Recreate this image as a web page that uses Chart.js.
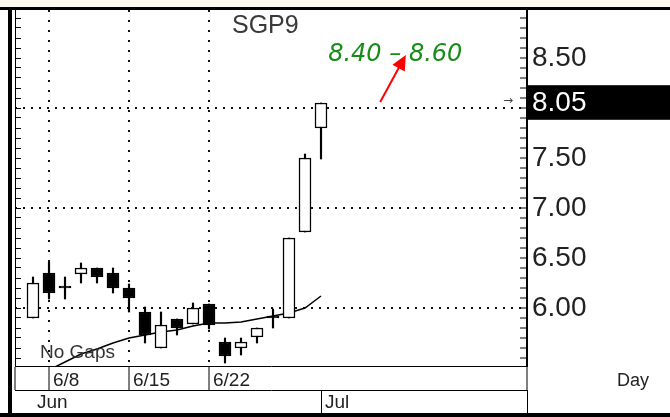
<!DOCTYPE html>
<html>
<head>
<meta charset="utf-8">
<script src="https://cdn.jsdelivr.net/npm/chart.js@4.4.1/dist/chart.umd.min.js"></script>
<style>
  html, body { margin: 0; padding: 0; background: #fff; }
  #wrap { position: relative; width: 670px; height: 417px; }
</style>
</head>
<body>
<div id="wrap"><canvas id="grafica" width="670" height="417"></canvas></div>
<script>
// trading days, one candle each
const fechas   = ['6/5','6/8','6/9','6/10','6/11','6/12','6/15','6/16','6/17','6/18','6/19','6/22','6/23','6/24','6/25','6/26','6/29','6/30','7/1'];
const apertura = [5.90, 6.35, 6.20, 6.34, 6.40, 6.35, 6.20, 5.96, 5.60, 5.89, 5.84, 6.04, 5.66, 5.60, 5.71, 5.90, 5.90, 6.76, 7.80];
const maximo   = [6.31, 6.46, 6.31, 6.45, 6.40, 6.40, 6.24, 6.01, 5.96, 5.89, 6.05, 6.04, 5.70, 5.70, 5.80, 5.99, 6.70, 7.54, 8.05];
const minimo   = [5.90, 6.09, 6.09, 6.25, 6.25, 6.15, 5.96, 5.65, 5.60, 5.73, 5.84, 5.79, 5.45, 5.53, 5.65, 5.80, 5.90, 6.76, 7.49];
const cierre   = [6.25, 6.15, 6.20, 6.40, 6.31, 6.20, 6.10, 5.73, 5.83, 5.80, 6.00, 5.83, 5.52, 5.66, 5.80, 5.90, 6.70, 7.50, 8.05];
const media    = [null, 5.38, 5.46, 5.54, 5.59, 5.65, 5.70, 5.73, 5.76, 5.78, 5.82, 5.85, 5.85, 5.86, 5.89, 5.92, 5.95, 6.00, 6.12];

// axis ticks
const dateTicks = [1, 6, 11];
const dateTickLabels = ['6/8', '6/15', '6/22'];
const monthTicks = [0, 18];
const monthLabels = ['Jun', 'Jul'];
const priceTicks = [6, 6.5, 7, 7.5, 8.05, 8.5];
const priceLabels = ['6.00', '6.50', '7.00', '7.50', '8.05', '8.50'];
const gridPrices = [6, 7, 8];
const lastPrice = 8.05;

const xMin = -1.125, xMax = 30.875;
const yMin = 5.42, yMax = 8.98;

const minorTicks = [];
for (let k = 55; k <= 89; k++) minorTicks.push(k / 10);
const rightTicks = minorTicks.concat([lastPrice]);

const cuerpos = fechas.map((f, i) => ({x: i, y: [apertura[i], cierre[i]]}));
const mechas = fechas.map((f, i) => ({x: i, y: [minimo[i], maximo[i]]}));
const promedio = fechas.map((f, i) => ({x: i, y: media[i]}));

const fuente = 'Liberation Sans';

// no label overflow padding: the plot box is fixed
const sinPadding = s => { s.paddingTop = 0; s.paddingBottom = 0; s.paddingLeft = 0; s.paddingRight = 0; };

const decor = {
  id: 'decor',
  beforeDraw(chart) {
    const c = chart.ctx;
    c.save();
    c.fillStyle = '#fbf8ee';
    c.fillRect(0, 0, chart.width, 7);
    c.restore();
  },
  afterDraw(chart) {
    const c = chart.ctx, x = chart.scales.x, y = chart.scales.y;
    c.save();
    // frame
    c.fillStyle = '#000';
    c.fillRect(0, 7, chart.width, 3);
    c.fillRect(8, 7, 4, chart.height - 7);
    c.fillRect(0, 413, chart.width, 4);

    c.textBaseline = 'middle';
    c.fillStyle = '#3a3a3a';
    c.font = '25px "' + fuente + '"';
    c.fillText('SGP9', 232, 26);
    c.fillStyle = '#333';
    c.font = '19px "' + fuente + '"';
    c.fillText('No Gaps', 40, 353);
    c.fillStyle = '#222';
    c.font = '18px "' + fuente + '"';
    c.fillText('Day', 617, 381);
    c.fillStyle = '#444';
    c.font = '12px "DejaVu Sans"';
    c.fillText('→', 503, y.getPixelForValue(lastPrice) - 2);

    // target
    c.fillStyle = '#188c18';
    c.font = 'italic 24px "DejaVu Sans"';
    c.fillText('8.40 – 8.60', x.getPixelForValue(18.45), y.getPixelForValue(8.53));

    // red arrow
    const x1 = x.getPixelForValue(21.7), y1 = y.getPixelForValue(8.06);
    const x2 = x.getPixelForValue(23.3), y2 = y.getPixelForValue(8.53);
    const a = Math.atan2(y2 - y1, x2 - x1);
    c.strokeStyle = '#f00';
    c.fillStyle = '#f00';
    c.lineWidth = 2;
    c.beginPath();
    c.moveTo(x1, y1);
    c.lineTo(x2 - 12 * Math.cos(a), y2 - 12 * Math.sin(a));
    c.stroke();
    c.beginPath();
    c.moveTo(x2, y2);
    c.lineTo(x2 - 15 * Math.cos(a) + 7 * Math.sin(a), y2 - 15 * Math.sin(a) - 7 * Math.cos(a));
    c.lineTo(x2 - 15 * Math.cos(a) - 7 * Math.sin(a), y2 - 15 * Math.sin(a) + 7 * Math.cos(a));
    c.closePath();
    c.fill();
    c.restore();
  }
};

const esTick = (ctx, lista) => ctx.tick && lista.includes(ctx.tick.value);

new Chart(document.getElementById('grafica'), {
  type: 'bar',
  data: {
    datasets: [
      {
        label: 'Cuerpo',
        data: cuerpos,
        xAxisID: 'x', yAxisID: 'y',
        backgroundColor: ctx => cierre[ctx.dataIndex] > apertura[ctx.dataIndex] ? '#fff' : '#000',
        borderColor: '#000',
        borderWidth: 1.5,
        borderSkipped: false,
        barThickness: 12,
        minBarLength: 2,
        grouped: false,
        order: 0
      },
      {
        label: 'Mecha',
        data: mechas,
        xAxisID: 'x', yAxisID: 'y',
        backgroundColor: '#000',
        borderWidth: 0,
        barThickness: 1.5,
        grouped: false,
        order: 1
      },
      {
        type: 'line',
        label: 'Media',
        data: promedio,
        xAxisID: 'x', yAxisID: 'y',
        borderColor: '#000',
        borderWidth: 1.5,
        pointRadius: 0,
        tension: 0,
        order: 2
      }
    ]
  },
  options: {
    responsive: false,
    animation: false,
    layout: { padding: { top: 10, bottom: 4, left: 0, right: 0 }, autoPadding: false },
    plugins: { legend: { display: false }, tooltip: { enabled: false } },
    scales: {
      x: {
        type: 'linear', axis: 'x', position: 'bottom', weight: 0,
        min: xMin, max: xMax, offset: false,
        afterBuildTicks: s => { s.ticks = [xMin].concat(dateTicks, [xMax]).map(v => ({value: v})); },
        afterFit: s => { s.height = 24; sinPadding(s); },
        grid: {
          offset: false, drawOnChartArea: true,
          color: ctx => esTick(ctx, dateTicks) ? '#111' : 'rgba(0,0,0,0)',
          lineWidth: 2,
          tickLength: 24, tickColor: '#000', tickWidth: 1
        },
        border: { display: true, color: '#000', width: 1, dash: [2, 8] },
        ticks: {
          autoSkip: false, maxRotation: 0, align: 'start', labelOffset: 4, padding: -21,
          color: '#222', font: { family: fuente, size: 19 },
          callback: v => { const k = dateTicks.indexOf(v); return k < 0 ? '' : dateTickLabels[k]; }
        }
      },
      x2: {
        type: 'linear', axis: 'x', position: 'bottom', weight: 1,
        min: xMin, max: xMax, offset: false,
        afterBuildTicks: s => { s.ticks = monthTicks.concat([xMax]).map(v => ({value: v})); },
        afterFit: s => { s.height = 23; sinPadding(s); },
        grid: {
          offset: false, drawOnChartArea: false,
          tickLength: 23, tickWidth: 1,
          tickColor: ctx => (ctx.tick && ctx.tick.value === monthTicks[0]) ? 'rgba(0,0,0,0)' : '#000'
        },
        border: { display: true, color: '#000', width: 1 },
        ticks: {
          autoSkip: false, maxRotation: 0, align: 'start', labelOffset: 4, padding: -22,
          color: '#222', font: { family: fuente, size: 19 },
          callback: v => { const k = monthTicks.indexOf(v); return k < 0 ? '' : monthLabels[k]; }
        }
      },
      y: {
        type: 'linear', axis: 'y', position: 'right',
        min: yMin, max: yMax, beginAtZero: false,
        afterBuildTicks: s => { s.ticks = rightTicks.map(v => ({value: v})); },
        afterFit: s => { s.width = 143; sinPadding(s); },
        grid: {
          drawOnChartArea: true,
          color: ctx => esTick(ctx, gridPrices) ? '#111' : 'rgba(0,0,0,0)',
          lineWidth: 2,
          tickLength: -7, tickWidth: 1,
          tickColor: ctx => (ctx.tick && ctx.tick.value === lastPrice) ? 'rgba(0,0,0,0)' : '#000'
        },
        border: { display: true, color: '#000', width: 2, dash: [2, 6] },
        ticks: {
          autoSkip: false, padding: 12,
          color: ctx => (ctx.tick && ctx.tick.value === lastPrice) ? '#fff' : '#222',
          font: { family: fuente, size: 28 },
          callback: v => { const k = priceTicks.indexOf(v); return k < 0 ? '' : priceLabels[k]; },
          showLabelBackdrop: ctx => !!(ctx.tick && ctx.tick.value === lastPrice),
          backdropColor: '#000',
          backdropPadding: { top: 1, bottom: 0, left: 4, right: 200 }
        }
      },
      yl: {
        type: 'linear', axis: 'y', position: 'left',
        min: yMin, max: yMax, beginAtZero: false,
        afterBuildTicks: s => { s.ticks = minorTicks.map(v => ({value: v})); },
        afterFit: s => { s.width = 15; sinPadding(s); },
        grid: { drawOnChartArea: false, tickLength: -6, tickColor: '#000', tickWidth: 1 },
        border: { display: true, color: '#000', width: 1 },
        ticks: { display: false }
      }
    }
  },
  plugins: [decor]
});
</script>
</body>
</html>
